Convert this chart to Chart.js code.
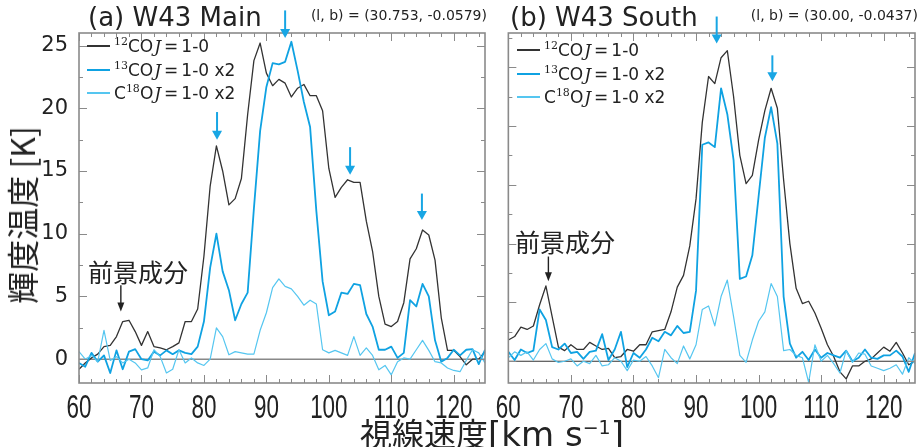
<!DOCTYPE html>
<html><head><meta charset="utf-8">
<script src="https://cdn.jsdelivr.net/npm/chart.js@4.4.0/dist/chart.umd.min.js"></script>
<style>
body{margin:0;width:919px;height:447px;overflow:hidden;background:#fff;position:relative;font-family:'DejaVu Sans',sans-serif;color:#222;}
.wrap{position:absolute;top:0;height:447px;}
#wa{left:0;width:492px;}
#wb{left:492px;width:427px;}
.t{position:absolute;white-space:nowrap;color:#222;}
.title{font-size:26px;line-height:26px;}
.sub{font-size:14px;line-height:14px;}
.row{position:absolute;height:20px;display:flex;align-items:center;white-space:nowrap;font-size:17px;}
.sw{display:inline-block;width:23px;margin-right:4px;}
.sup{font-family:'DejaVu Serif',serif;font-size:11px;position:relative;top:-7px;}
.mj{font-family:'DejaVu Serif',serif;font-style:italic;margin-left:1px;}
.eq{margin:0 3px;}
.jp{font-family:'Noto Sans CJK JP',sans-serif;}
.lat{font-family:'DejaVu Sans',sans-serif;font-size:34px;}
</style></head>
<body>
<div class="wrap" id="wa"><canvas id="ca"></canvas></div>
<div class="wrap" id="wb"><canvas id="cb"></canvas></div>

<div class="t title" style="left:88px;top:4px;">(a) W43 Main</div>
<div class="t sub" style="right:432px;top:8px;">(l, b) = (30.753, -0.0579)</div>
<div class="t title" style="left:510px;top:4px;">(b) W43 South</div>
<div class="t sub" style="right:1px;top:8px;">(l, b) = (30.00, -0.0437)</div>

<div class="row" style="left:87px;top:36px;"><span class="sw" style="height:1.3px;background:#333;"></span><span><span class="sup">12</span>CO<span class="mj">J</span><span class="eq">=</span>1-0</span></div>
<div class="row" style="left:87px;top:60px;"><span class="sw" style="height:2px;background:#0fa2e2;"></span><span><span class="sup">13</span>CO<span class="mj">J</span><span class="eq">=</span>1-0 x2</span></div>
<div class="row" style="left:87px;top:83px;"><span class="sw" style="height:1.3px;background:#55c6f0;"></span><span>C<span class="sup">18</span>O<span class="mj">J</span><span class="eq">=</span>1-0 x2</span></div>

<div class="row" style="left:517px;top:40px;"><span class="sw" style="height:1.3px;background:#333;"></span><span><span class="sup">12</span>CO<span class="mj">J</span><span class="eq">=</span>1-0</span></div>
<div class="row" style="left:517px;top:64px;"><span class="sw" style="height:2px;background:#0fa2e2;"></span><span><span class="sup">13</span>CO<span class="mj">J</span><span class="eq">=</span>1-0 x2</span></div>
<div class="row" style="left:517px;top:87px;"><span class="sw" style="height:1.3px;background:#55c6f0;"></span><span>C<span class="sup">18</span>O<span class="mj">J</span><span class="eq">=</span>1-0 x2</span></div>

<div class="t jp" style="left:138px;top:271px;transform:translate(-50%,-50%);font-size:25px;">前景成分</div>
<div class="t jp" style="left:565px;top:241px;transform:translate(-50%,-50%);font-size:25px;">前景成分</div>

<div class="t jp" style="left:21px;top:215px;transform:translate(-50%,-50%) rotate(-90deg);font-size:32px;">輝度温度 [K]</div>
<div class="t jp" style="left:492px;top:409px;transform:translate(-50%,0);font-size:32px;line-height:36px;">視線速度<span class="lat">[km s<sup style="font-size:19px;">−1</sup>]</span></div>

<script>
// ---- data ----
const velocity = [60,61,62,63,64,65,66,67,68,69,70,71,72,73,74,75,76,77,78,79,80,81,82,83,84,85,86,87,88,89,90,91,92,93,94,95,96,97,98,99,100,101,102,103,104,105,106,107,108,109,110,111,112,113,114,115,116,117,118,119,120,121,122,123,124,125];

// (a) W43 Main
const co12Main = [-0.8,-0.3,0.1,0.4,1.0,1.1,1.8,3.0,3.1,2.2,1.1,2.2,1.0,0.9,0.75,1.0,1.3,3.0,3.0,4.0,8.2,13.8,17.0,15.0,12.3,12.8,14.4,19.5,23.8,25.2,22.8,21.8,22.3,22.0,20.9,21.6,21.9,21.0,21.0,19.8,15.2,12.9,13.7,14.3,14.1,14.1,11.0,8.6,5.0,2.8,2.6,3.0,4.5,8.0,8.8,10.3,9.9,7.9,3.3,0.7,0.7,0.2,-0.45,0.0,0.0,0.6];
const co13Main = [-0.3,-0.6,0.5,-0.2,0.3,-1.1,0.7,-0.8,0.6,0.8,0.0,-0.1,0.6,0.3,0.7,0.4,0.7,0.5,0.4,1.0,3.0,7.3,10.0,7.0,5.5,3.1,4.4,5.3,12.0,18.2,21.7,23.6,23.5,23.7,25.3,23.0,20.5,18.5,11.8,6.2,3.5,3.8,5.3,5.2,6.0,5.9,3.6,2.6,0.75,0.75,1.0,0.1,0.5,4.7,4.2,6.0,5.0,1.5,-0.2,0.1,0.75,0.3,0.75,0.8,-0.4,0.75];
const c18oMain = [0.6,0.0,0.3,-0.2,2.3,-0.1,0.2,-0.3,0.0,-0.3,-0.85,-0.7,0.75,0.2,-1.1,-0.8,0.75,-0.3,0.1,-0.3,-0.5,0.0,2.5,1.8,0.35,0.6,0.5,0.4,0.4,2.3,3.7,5.7,6.4,5.8,5.6,5.0,4.3,4.7,4.4,0.75,0.5,0.7,0.5,0.3,1.8,0.3,0.9,0.3,-0.85,-0.5,-1.25,-0.2,0.1,0.0,0.75,1.5,0.7,-0.2,-0.3,-0.7,-0.9,-1.0,-0.1,0.75,0.5,-0.3];

// (b) W43 South
const co12South = [1.8,2.1,2.9,2.7,3.0,4.8,6.4,3.8,1.2,0.9,1.4,1.0,1.0,1.6,1.3,1.0,1.1,0.3,0.4,1.0,0.85,1.4,1.4,2.5,2.6,2.7,4.2,6.3,7.3,9.8,13.8,20.3,24.2,23.6,25.8,26.4,22.5,17.5,15.1,15.8,18.8,21.3,23.2,21.5,15.4,10.0,6.2,4.9,5.1,4.1,2.8,1.4,0.4,-0.9,-1.5,-0.4,-0.4,0.0,0.2,0.7,1.2,0.85,1.6,0.7,-0.3,0.0];
const co13South = [0.8,0.1,1.0,0.7,0.9,4.4,3.5,1.2,1.0,1.5,0.7,0.8,0.2,0.8,0.9,2.3,0.1,1.0,2.5,-0.5,0.7,0.3,1.0,2.0,1.7,2.5,2.2,3.0,2.4,2.5,6.0,18.4,18.6,18.2,23.2,21.0,17.1,7.0,7.2,9.0,14.0,19.0,21.6,18.5,5.5,1.5,0.3,0.8,0.1,1.0,0.3,0.7,0.5,0.3,0.9,0.0,0.3,1.0,0.3,0.2,0.5,0.5,0.9,0.4,-0.9,0.7];
const c18oSouth = [0.3,0.8,0.5,0.8,0.1,1.0,1.5,0.2,-0.1,0.0,0.2,-0.4,0.0,-0.2,0.5,-0.4,-0.3,0.3,0.0,-0.8,0.1,0.0,0.4,-0.4,-1.4,1.0,0.3,-0.2,1.3,0.2,1.4,4.4,4.7,3.0,5.5,6.9,3.8,0.5,-0.1,1.8,3.4,4.2,6.6,5.5,0.9,1.0,0.5,0.3,-1.8,1.4,0.0,0.5,-0.2,-1.0,0.9,-0.1,0.7,0.6,-0.4,-0.6,-0.8,-0.6,-0.3,-1.1,0.3,-0.2];

// tick labels
const xTickLabels = [60,70,80,90,100,110,120];
const yTickLabelsMain = [0,5,10,15,20,25];
const yTickLabelsSouth = [0,5,10,15,20,25];

// annotation arrows: [velocity, from K, to K]
const peakArrowsMain = [[82.1,19.7,17.5],[93.0,27.8,25.6],[103.4,16.9,14.7],[114.9,13.2,11.1]];
const fgArrowMain = [66.7,5.9,3.8];
const peakArrowsSouth = [[93.3,29.3,27.0],[102.2,26.0,23.8]];
const fgArrowSouth = [66.4,8.9,6.8];

// ---- drawing ----
const pts = arr => velocity.map((v,i)=>({x:v,y:arr[i]}));

function arrow(ctx, x, y1, y2, color, lw, hw, hl){
  ctx.strokeStyle=color; ctx.fillStyle=color; ctx.lineWidth=lw;
  ctx.beginPath(); ctx.moveTo(x,y1); ctx.lineTo(x,y2-hl+1); ctx.stroke();
  ctx.beginPath(); ctx.moveTo(x-hw,y2-hl); ctx.lineTo(x+hw,y2-hl); ctx.lineTo(x,y2); ctx.closePath(); ctx.fill();
}

// narrow (condensed) rendering of the x-axis tick labels
const condensePlugin = {
  id:'condense',
  afterLayout(chart){
    const s = chart.scales.x;
    if (s._condensed) return;
    s._condensed = true;
    const orig = s.drawLabels;
    const f = 0.68;
    s.drawLabels = function(area){
      const ctx = this.ctx;
      const ft = ctx.fillText;
      ctx.fillText = function(t, x, y, mw){
        this.save(); this.scale(f,1); ft.call(this, t, x/f, y); this.restore();
      };
      try { orig.call(this, area); } finally { delete ctx.fillText; }
    };
  }
};

const framePlugin = {
  id:'frame',
  beforeDatasetsDraw(chart, args, o){
    const {ctx, chartArea:a, scales:{y}} = chart;
    const y0 = y.getPixelForValue(0);
    ctx.save();
    ctx.strokeStyle=o.zeroColor; ctx.lineWidth=o.zeroWidth;
    ctx.beginPath(); ctx.moveTo(a.left,y0); ctx.lineTo(a.right,y0); ctx.stroke();
    ctx.restore();
  },
  afterDraw(chart, args, o){
    const {ctx, chartArea:a, scales:{x,y}} = chart;
    ctx.save();
    ctx.strokeStyle=o.frameColor; ctx.lineWidth=1;
    ctx.beginPath();
    for(let v=x.min; v<=x.max+1e-6; v+=2){
      const px=Math.round(x.getPixelForValue(v))+0.5;
      const len=(v%10===0)?8:4;
      ctx.moveTo(px,a.bottom); ctx.lineTo(px,a.bottom-len);
      ctx.moveTo(px,a.top); ctx.lineTo(px,a.top+len);
    }
    for(let k=Math.ceil(y.min/2.5)*2.5; k<=y.max+1e-6; k+=2.5){
      const py=Math.round(y.getPixelForValue(k))+0.5;
      const len=(Math.abs(k%5)<1e-6)?8:4;
      ctx.moveTo(a.left,py); ctx.lineTo(a.left+len,py);
      ctx.moveTo(a.right,py); ctx.lineTo(a.right-len,py);
    }
    ctx.stroke();
    ctx.lineWidth=1.6;
    ctx.strokeRect(a.left,a.top,a.right-a.left,a.bottom-a.top);
    o.peaks.forEach(p=>arrow(ctx,x.getPixelForValue(p[0]),y.getPixelForValue(p[1]),y.getPixelForValue(p[2]),'#18a6e4',2,5,9));
    const f=o.fg;
    arrow(ctx,x.getPixelForValue(f[0]),y.getPixelForValue(f[1]),y.getPixelForValue(f[2]),'#222',1.4,3.5,9);
    ctx.restore();
  }
};

function makeChart(id, d12, d13, d18, ymin, ymax, yTicks, yFont, yPad, yWidth, padR, peaks, fg, zeroColor, zeroWidth){
  return new Chart(document.getElementById(id), {
    type:'line',
    data:{datasets:[
      {label:'12CO J=1-0', data:pts(d12), borderColor:'#333333', borderWidth:1.3, order:3},
      {label:'13CO J=1-0 x2', data:pts(d13), borderColor:'#0fa2e2', borderWidth:1.8, order:2},
      {label:'C18O J=1-0 x2', data:pts(d18), borderColor:'#55c6f0', borderWidth:1.2, order:1}
    ]},
    options:{
      responsive:true, maintainAspectRatio:false, animation:false,
      layout:{padding:{left:0,right:padR,top:33,bottom:0}},
      elements:{point:{radius:0}, line:{tension:0, borderJoinStyle:'round', fill:false}},
      plugins:{legend:{display:false}, tooltip:{enabled:false},
        frame:{frameColor:'#8a8a8a', zeroColor:zeroColor, zeroWidth:zeroWidth, peaks:peaks, fg:fg}},
      scales:{
        x:{type:'linear', min:60, max:125,
          afterBuildTicks:s=>{s.ticks=xTickLabels.map(v=>({value:v}));},
          afterFit:s=>{s.height=64;},
          grid:{display:false}, border:{display:false},
          ticks:{font:{family:"'Liberation Sans',Arial,sans-serif", size:33}, color:'#222', padding:-2, maxRotation:0, autoSkip:false}},
        y:{type:'linear', min:ymin, max:ymax,
          afterBuildTicks:s=>{s.ticks=yTicks.map(v=>({value:v}));},
          afterFit:s=>{s.width=yWidth;},
          grid:{display:false}, border:{display:false},
          ticks:{font:yFont, color:'#222', padding:yPad, autoSkip:false}}
      }
    },
    plugins:[condensePlugin, framePlugin]
  });
}

makeChart('ca', co12Main, co13Main, c18oMain, -1.9, 26, yTickLabelsMain, {family:'DejaVu Sans', size:21}, 3, 79, 7, peakArrowsMain, fgArrowMain, '#888888', 1.5);
makeChart('cb', co12South, co13South, c18oSouth, -1.85, 27.9, yTickLabelsSouth, {family:'Liberation Sans', size:10}, 9, 16, 4, peakArrowsSouth, fgArrowSouth, '#333333', 1.2);
</script>
</body></html>
